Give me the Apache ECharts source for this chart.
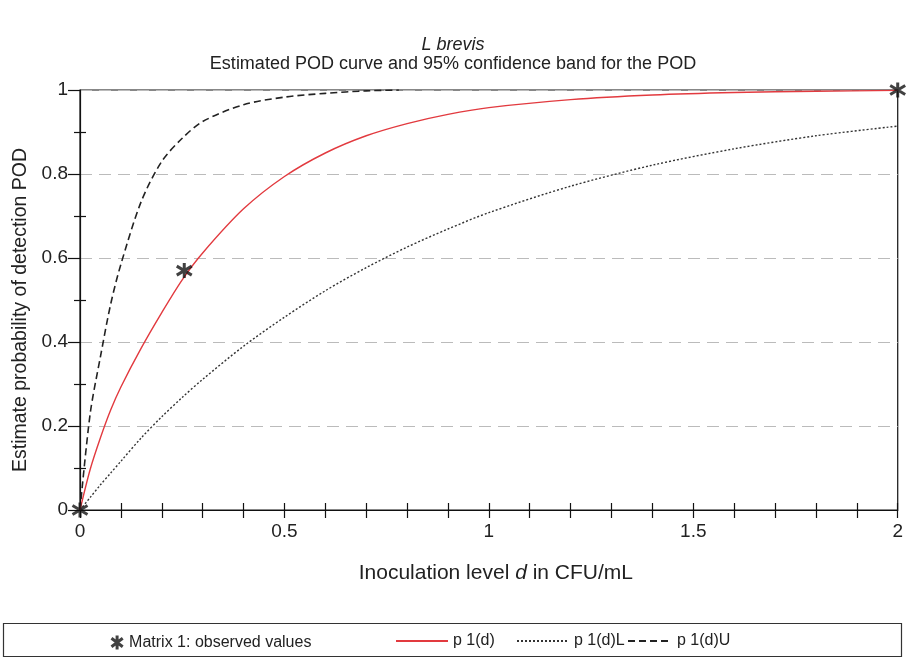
<!DOCTYPE html>
<html>
<head>
<meta charset="utf-8">
<script src="https://cdn.jsdelivr.net/npm/echarts@6/dist/echarts.min.js"></script>
<style>
  html, body { margin: 0; padding: 0; background: #fff; }
  #main { width: 906px; height: 658px; }
</style>
</head>
<body>
<div id="main"></div>
<script>
// values
var doseX = [0, 0.025, 0.05, 0.075, 0.1, 0.15, 0.2, 0.25, 0.3, 0.4, 0.5, 0.6, 0.7, 0.8, 0.9, 1.0, 1.2, 1.4, 1.6, 1.8, 2.0];
var podMid = [0, 0.097, 0.172, 0.238, 0.293, 0.386, 0.470, 0.548, 0.612, 0.717, 0.794, 0.850, 0.891, 0.920, 0.942, 0.958, 0.977, 0.988, 0.994, 0.997, 0.999];
var podLow = [0, 0.030, 0.060, 0.088, 0.116, 0.172, 0.222, 0.268, 0.311, 0.390, 0.459, 0.522, 0.577, 0.626, 0.669, 0.708, 0.771, 0.821, 0.860, 0.891, 0.914];
var upX = [0, 0.025, 0.05, 0.075, 0.1, 0.15, 0.2, 0.25, 0.3, 0.4, 0.5, 0.6, 0.7, 0.78];
var podUp = [0, 0.230, 0.365, 0.490, 0.585, 0.735, 0.830, 0.885, 0.925, 0.965, 0.983, 0.992, 0.998, 1.0];
var obsX = [0, 0.255, 2];
var obsY = [0, 0.570, 1];

var names = ['Matrix 1: observed values', 'p 1(d)', 'p 1(d)L', 'p 1(d)U'];
var starPath = 'path://M5,0L5,10M1,2L9,8M1,8L9,2';
var font = 'Liberation Sans, Arial, sans-serif';
var ink = '#111';
var noSymbol = { color: 'rgba(0,0,0,0)', borderColor: 'rgba(0,0,0,0)', borderWidth: 0 };

function pairs(xs, ys) {
  var out = [];
  for (var i = 0; i < xs.length; i++) out.push([xs[i], ys[i]]);
  return out;
}

var chart = echarts.init(document.getElementById('main'), null, { renderer: 'canvas' });

var legendBase = {
  top: 628,
  itemHeight: 14,
  textStyle: { fontFamily: font, fontSize: 16, color: '#222' },
  selectedMode: false
};

var option = {
  animation: false,
  backgroundColor: '#fff',
  title: [
    { text: 'L brevis', left: 'center', top: 31,
      textStyle: { fontFamily: font, fontSize: 18, fontWeight: 'normal', fontStyle: 'italic', color: '#222' } },
    { text: 'Estimated POD curve and 95% confidence band for the POD', left: 'center', top: 50,
      textStyle: { fontFamily: font, fontSize: 18, fontWeight: 'normal', color: '#222' } }
  ],
  grid: { left: 80, right: 4, top: 90, bottom: 148, show: true, borderColor: ink, borderWidth: 1.2 },
  legend: [
    Object.assign({}, legendBase, { left: 104, itemWidth: 14,
      data: [{ name: names[0], icon: starPath, itemStyle: { color: 'none', borderColor: ink, borderWidth: 3 } }] }),
    Object.assign({}, legendBase, { left: 390, itemWidth: 52, data: [{ name: names[1], itemStyle: noSymbol }] }),
    Object.assign({}, legendBase, { left: 511, itemWidth: 52, data: [{ name: names[2], itemStyle: noSymbol }] }),
    Object.assign({}, legendBase, { left: 622, itemWidth: 44, data: [{ name: names[3], itemStyle: noSymbol }] })
  ],
  graphic: [
    { type: 'rect', shape: { x: 3.5, y: 623.5, width: 898, height: 33 },
      style: { fill: 'none', stroke: '#333', lineWidth: 1.2 }, silent: true, z: -1 }
  ],
  xAxis: [
    {
      type: 'value', min: 0, max: 2, interval: 0.5, position: 'bottom',
      name: '{n|Inoculation level }{i|d}{n| in CFU/mL}',
      nameLocation: 'middle', nameGap: 53,
      nameTextStyle: { padding: [0, 0, 0, 14], rich: {
        n: { fontFamily: font, fontSize: 21, color: '#222' },
        i: { fontFamily: font, fontSize: 21, color: '#222', fontStyle: 'italic' }
      } },
      axisLine: { lineStyle: { color: ink, width: 1.2 } },
      axisTick: { show: false },
      axisLabel: { fontFamily: font, fontSize: 19, color: '#222', margin: 12 },
      splitLine: { show: false }
    },
    {
      // ticks crossing the axis line
      type: 'value', min: 0, max: 2, interval: 0.1, position: 'bottom', offset: -7,
      axisLine: { show: false },
      axisTick: { show: true, length: 15, lineStyle: { color: ink, width: 1.2 } },
      axisLabel: { show: false },
      splitLine: { show: false }
    }
  ],
  yAxis: [
    {
      type: 'value', min: 0, max: 1, interval: 0.2, position: 'left',
      name: 'Estimate probability of detection POD',
      nameLocation: 'middle', nameGap: 43,
      nameTextStyle: { fontFamily: font, fontSize: 19.5, color: '#222', padding: [0, 20, 0, 0] },
      axisLine: { show: true, lineStyle: { color: ink, width: 1.2 } },
      axisTick: { show: true, length: 12, lineStyle: { color: ink, width: 1.2 } },
      axisLabel: { fontFamily: font, fontSize: 19, color: '#222', margin: 12 },
      splitLine: { show: true, lineStyle: { color: '#bbb', width: 1, type: [12, 7] } }
    },
    {
      // minor ticks crossing the axis line
      type: 'value', min: 0, max: 1, interval: 0.2, position: 'left', offset: -6,
      axisLine: { show: false },
      axisTick: { show: true, length: 0, lineStyle: { color: 'rgba(0,0,0,0)' } },
      minorTick: { show: true, splitNumber: 2, length: 12, lineStyle: { color: ink, width: 1.2 } },
      axisLabel: { show: false },
      splitLine: { show: false }
    }
  ],
  series: [
    {
      name: names[2], type: 'line', data: pairs(doseX, podLow),
      smooth: 0.3, showSymbol: false, symbol: 'none', z: 3,
      lineStyle: { color: '#333', width: 1.4, type: [2, 2] }, itemStyle: { color: '#333' }
    },
    {
      name: names[3], type: 'line', data: pairs(upX, podUp),
      smooth: 0.3, showSymbol: false, symbol: 'none', z: 3,
      lineStyle: { color: '#222', width: 1.6, type: [7, 4] }, itemStyle: { color: '#222' }
    },
    {
      name: names[1], type: 'line', data: pairs(doseX, podMid),
      smooth: 0.3, showSymbol: false, symbol: 'none', z: 4,
      lineStyle: { color: '#e23a3f', width: 1.4 }, itemStyle: { color: '#e23a3f' }
    },
    {
      name: names[0], type: 'scatter', data: pairs(obsX, obsY),
      symbol: starPath, symbolSize: 15, clip: false, z: 6,
      itemStyle: { color: 'none', borderColor: ink, borderWidth: 3 }
    }
  ]
};

chart.setOption(option);
</script>
</body>
</html>
